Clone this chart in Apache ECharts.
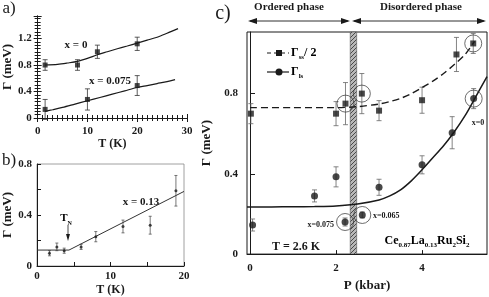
<!DOCTYPE html>
<html>
<head>
<meta charset="utf-8">
<script src="https://cdn.jsdelivr.net/npm/echarts@6/dist/echarts.min.js"></script>
<style>
html, body { margin: 0; padding: 0; background: #fff; }
#chart { width: 489px; height: 297px; }
</style>
</head>
<body>
<div id="chart"></div>
<script>
// ---- panel a : Gamma vs T, x = 0 and x = 0.075
const aT0 = [1.5, 8, 12, 20];
const aG0 = [0.8, 0.8, 1.0, 1.12];
const aE0 = [0.08, 0.08, 0.1, 0.1];
const aT1 = [1.5, 10, 20];
const aG1 = [0.13, 0.28, 0.49];
const aE1 = [0.15, 0.16, 0.15];
const aFit0T = [1.5, 4, 6, 8, 10, 12, 14, 16, 18, 20, 22, 24, 26, 28.2];
const aFit0 = [0.8, 0.81, 0.83, 0.855, 0.9, 0.955, 1.0, 1.045, 1.087, 1.13, 1.175, 1.22, 1.28, 1.35];
const aFit1T = [1.5, 3, 5, 7.5, 10, 12.5, 15, 17.5, 20, 22, 24, 26, 27.6];
const aFit1 = [0.1, 0.125, 0.16, 0.21, 0.26, 0.31, 0.36, 0.41, 0.46, 0.49, 0.52, 0.55, 0.58];

// ---- panel b : Gamma vs T, x = 0.13
const bT = [1.7, 2.7, 3.7, 6.0, 8.0, 11.7, 15.4, 18.9];
const bG = [0.10, 0.15, 0.12, 0.15, 0.23, 0.31, 0.32, 0.59];
const bE = [0.02, 0.03, 0.02, 0.02, 0.04, 0.05, 0.07, 0.12];
const bFitT = [0, 4.35, 20];
const bFit = [0.125, 0.125, 0.585];

// ---- panel c : Gamma vs P
const cPss = [0.02, 2.0, 3.0, 4.0, 4.8];
const cGss = [0.70, 0.70, 0.715, 0.767, 0.995];
const cEss = [0.05, 0.06, 0.05, 0.065, 0.085];
const cPssC = [2.22, 2.6, 5.19];
const cGssC = [0.75, 0.80, 1.05];
const cEssC = [0.105, 0.1, 0.05];
const cPls = [0.06, 1.5, 2.0, 3.0, 4.0, 4.7];
const cGls = [0.145, 0.29, 0.385, 0.333, 0.445, 0.605];
const cEls = [0.03, 0.03, 0.05, 0.04, 0.045, 0.08];
const cPlsC = [2.21, 2.61, 5.2];
const cGlsC = [0.16, 0.195, 0.775];
const cElsC = [0.02, 0.015, 0.05];
const cFitSsP = [0, 1, 2, 2.5, 3, 3.25, 3.5, 3.75, 4, 4.25, 4.5, 4.75, 5, 5.22];
const cFitSs = [0.73, 0.73, 0.73, 0.735, 0.748, 0.76, 0.776, 0.8, 0.83, 0.862, 0.9, 0.945, 0.995, 1.06];
const cFitLsP = [-0.07, 0.5, 1, 1.5, 2, 2.5, 3, 3.25, 3.5, 3.75, 4, 4.25, 4.5, 4.75, 5, 5.25, 5.51];
const cFitLs = [0.235, 0.235, 0.236, 0.237, 0.24, 0.25, 0.27, 0.29, 0.32, 0.365, 0.42, 0.48, 0.54, 0.61, 0.69, 0.785, 0.885];
const cBand = [2.33, 2.48];

const SERIF = '"Liberation Serif", "DejaVu Serif", serif';
const INK = '#1a1a1a';

const zip = (xs, ys) => xs.map((x, i) => [x, ys[i]]);

// error bars drawn through the axes
function errBars(xi, yi, xs, ys, es, cap, color) {
  return {
    type: 'custom',
    xAxisIndex: xi,
    yAxisIndex: yi,
    silent: true,
    z: 1,
    encode: { x: 0, y: [1, 2] },
    data: xs.map((x, i) => [x, ys[i] - es[i], ys[i] + es[i]]),
    renderItem: (params, api) => {
      const lo = api.coord([api.value(0), api.value(1)]);
      const hi = api.coord([api.value(0), api.value(2)]);
      const st = { stroke: color, lineWidth: 0.8 };
      return {
        type: 'group',
        children: [
          { type: 'line', shape: { x1: lo[0], y1: lo[1], x2: hi[0], y2: hi[1] }, style: st },
          { type: 'line', shape: { x1: lo[0] - cap, y1: lo[1], x2: lo[0] + cap, y2: lo[1] }, style: st },
          { type: 'line', shape: { x1: hi[0] - cap, y1: hi[1], x2: hi[0] + cap, y2: hi[1] }, style: st },
        ],
      };
    },
  };
}

function pts(xi, yi, data, symbol, size) {
  return {
    type: 'scatter', xAxisIndex: xi, yAxisIndex: yi, data: data,
    symbol: symbol, symbolSize: size, z: 3, silent: true,
    itemStyle: { color: INK },
  };
}

function fit(xi, yi, data, smooth, width, dash, color) {
  return {
    type: 'line', xAxisIndex: xi, yAxisIndex: yi, data: data,
    smooth: smooth, showSymbol: false, silent: true, z: 2,
    lineStyle: { color: color || INK, width: width, type: dash || 'solid' },
  };
}

// hatch pattern for the phase boundary
const pc = document.createElement('canvas');
pc.width = 4; pc.height = 4;
const pctx = pc.getContext('2d');
pctx.fillStyle = '#b8b8b8';
pctx.fillRect(0, 0, 4, 4);
pctx.strokeStyle = '#4a4a4a';
pctx.lineWidth = 1;
pctx.beginPath();
pctx.moveTo(0, 4); pctx.lineTo(4, 0);
pctx.moveTo(-1, 1); pctx.lineTo(1, -1);
pctx.moveTo(3, 5); pctx.lineTo(5, 3);
pctx.stroke();

const tickLbl = { fontFamily: SERIF, fontWeight: 'bold', fontSize: 11, color: INK };
const axisNm = { fontFamily: SERIF, fontWeight: 'bold', fontSize: 13, color: INK };
const lineBlk = { lineStyle: { color: INK, width: 1 } };
const dec1 = (v) => (v === 0 ? '0' : v.toFixed(1));

const sub = (t) => ({
  fontFamily: SERIF, fontWeight: 'bold', fontSize: t, color: INK,
  lineHeight: t + 1, verticalAlign: 'bottom',
});
const base = (t) => ({
  fontFamily: SERIF, fontWeight: 'bold', fontSize: t, color: INK, lineHeight: 16,
});

function txt(x, y, text, size, weight, align) {
  return {
    type: 'text', x: x, y: y, silent: true, z: 20,
    style: {
      text: text, fill: INK, align: align || 'center', verticalAlign: 'middle',
      font: (weight || 'bold') + ' ' + size + 'px ' + SERIF,
    },
  };
}

function richTxt(x, y, text, rich, align) {
  return {
    type: 'text', x: x, y: y, silent: true, z: 20,
    style: { text: text, rich: rich, align: align || 'left', verticalAlign: 'middle' },
  };
}

function head(x, y, dir) {
  const l = 9, h = 3;
  return {
    type: 'polygon', silent: true, z: 20,
    shape: { points: [[x, y], [x - dir * l, y - h], [x - dir * l, y + h]] },
    style: { fill: INK },
  };
}

const chart = echarts.init(document.getElementById('chart'), null, { renderer: 'canvas' });

const option = {
  animation: false,
  backgroundColor: '#fff',
  grid: [
    { left: 37, top: 16, width: 150, height: 102, show: false },
    { left: 37, top: 164, width: 147, height: 102, show: true, borderColor: '#888', borderWidth: 0.8 },
    { left: 247, top: 32, width: 240, height: 227, show: true, borderColor: INK, borderWidth: 1 },
  ],
  xAxis: [
    {
      gridIndex: 0, type: 'value', min: 0, max: 30, interval: 10,
      axisLine: lineBlk, splitLine: { show: false },
      axisTick: { inside: true, length: 4, lineStyle: { color: INK } },
      minorTick: { show: true, splitNumber: 10, length: 3, lineStyle: { color: INK } },
      axisLabel: Object.assign({ margin: 8 }, tickLbl),
      name: 'T (K)', nameLocation: 'middle', nameGap: 19,
      nameTextStyle: Object.assign({}, axisNm, { fontSize: 12 }),
    },
    {
      gridIndex: 0, type: 'value', position: 'top', min: 0, max: 30, interval: 10,
      axisLine: lineBlk, splitLine: { show: false },
      axisTick: { inside: true, length: 4, lineStyle: { color: INK } },
      minorTick: { show: true, splitNumber: 10, length: 3, lineStyle: { color: INK } },
      axisLabel: { show: false },
    },
    {
      gridIndex: 1, type: 'value', min: 0, max: 20, interval: 5,
      axisLine: lineBlk, splitLine: { show: false },
      axisTick: { inside: true, length: 4, lineStyle: { color: INK } },
      axisLabel: Object.assign({ margin: 5, formatter: (v) => (v % 10 === 0 ? String(v) : '') }, tickLbl),
      name: 'T (K)', nameLocation: 'middle', nameGap: 18,
      nameTextStyle: Object.assign({}, axisNm, { fontSize: 12 }),
    },
    {
      gridIndex: 2, type: 'value', min: -0.07, max: 5.51,
      axisLine: lineBlk, splitLine: { show: false },
      axisTick: { inside: true, length: 4, customValues: [0, 2, 4], lineStyle: { color: INK } },
      axisLabel: Object.assign({ margin: 9, customValues: [0, 2, 4] }, tickLbl),
      name: 'P (kbar)', nameLocation: 'middle', nameGap: 21,
      nameTextStyle: axisNm,
    },
  ],
  yAxis: [
    {
      gridIndex: 0, type: 'value', min: 0, max: 1.54, interval: 0.4,
      axisLine: lineBlk, splitLine: { show: false },
      axisTick: { inside: true, length: 4, lineStyle: { color: INK } },
      minorTick: { show: true, splitNumber: 8, length: 3, lineStyle: { color: INK } },
      axisLabel: Object.assign({ margin: 6, formatter: dec1, showMaxLabel: false }, tickLbl),
      name: 'Γ (meV)', nameLocation: 'middle', nameGap: 21, nameTextStyle: axisNm,
    },
    {
      gridIndex: 0, type: 'value', position: 'right', min: 0, max: 1.54, interval: 0.4,
      axisLine: lineBlk, splitLine: { show: false },
      axisTick: { inside: true, length: 4, lineStyle: { color: INK } },
      minorTick: { show: true, splitNumber: 8, length: 3, lineStyle: { color: INK } },
      axisLabel: { show: false },
    },
    {
      gridIndex: 1, type: 'value', min: 0, max: 0.8, interval: 0.2,
      axisLine: lineBlk, splitLine: { show: false },
      axisTick: { inside: true, length: 4, lineStyle: { color: INK } },
      axisLabel: Object.assign({
        margin: 5,
        formatter: (v) => (Math.abs(v * 10 % 4) < 1e-6 ? dec1(v) : ''),
      }, tickLbl),
      name: 'Γ (meV)', nameLocation: 'middle', nameGap: 22, nameTextStyle: axisNm,
    },
    {
      gridIndex: 2, type: 'value', min: 0, max: 1.107,
      axisLine: lineBlk, splitLine: { show: false },
      axisTick: { inside: true, length: 5, customValues: [0, 0.4, 0.8], lineStyle: { color: INK } },
      axisLabel: Object.assign({ margin: 9, customValues: [0, 0.4, 0.8], formatter: dec1 }, tickLbl),
      name: 'Γ (meV)', nameLocation: 'middle', nameGap: 34, nameTextStyle: axisNm,
    },
  ],
  series: [
    // panel a
    fit(0, 0, zip(aFit0T, aFit0), 0.3, 1.2),
    fit(0, 0, zip(aFit1T, aFit1), 0.3, 1.2),
    errBars(0, 0, aT0, aG0, aE0, 2.5, '#333'),
    errBars(0, 0, aT1, aG1, aE1, 2.5, '#333'),
    pts(0, 0, zip(aT0, aG0), 'rect', 5),
    pts(0, 0, zip(aT1, aG1), 'rect', 5),
    // panel b
    fit(2, 2, zip(bFitT, bFit), false, 1, null, '#333'),
    errBars(2, 2, bT, bG, bE, 1.5, '#555'),
    pts(2, 2, zip(bT, bG), 'circle', 3),
    // panel c : hatched phase boundary
    {
      type: 'custom', xAxisIndex: 3, yAxisIndex: 3, silent: true, z: 0,
      encode: { x: [0, 1] },
      data: [[cBand[0], cBand[1]]],
      renderItem: (params, api) => {
        const a = api.coord([api.value(0), 0]);
        const b = api.coord([api.value(1), 0]);
        const cs = params.coordSys;
        return {
          type: 'rect',
          shape: { x: a[0], y: cs.y, width: b[0] - a[0], height: cs.height },
          style: { fill: { image: pc, repeat: 'repeat' }, stroke: '#555', lineWidth: 0.6 },
        };
      },
    },
    fit(3, 3, zip(cFitSsP, cFitSs), 0.3, 1.4, [7, 4]),
    fit(3, 3, zip(cFitLsP, cFitLs), 0.3, 1.5),
    errBars(3, 3, cPss, cGss, cEss, 2.5, '#666'),
    errBars(3, 3, cPssC, cGssC, cEssC, 2.5, '#666'),
    errBars(3, 3, cPls, cGls, cEls, 2.5, '#666'),
    errBars(3, 3, cPlsC, cGlsC, cElsC, 2.5, '#666'),
    pts(3, 3, zip(cPss, cGss), 'rect', 6),
    pts(3, 3, zip(cPssC, cGssC), 'rect', 6),
    pts(3, 3, zip(cPls, cGls), 'circle', 7),
    pts(3, 3, zip(cPlsC, cGlsC), 'circle', 7),
    {
      type: 'scatter', xAxisIndex: 3, yAxisIndex: 3, silent: true, z: 4,
      data: zip(cPssC.concat(cPlsC), cGssC.concat(cGlsC)),
      symbol: 'circle', symbolSize: 17,
      itemStyle: { color: 'rgba(0,0,0,0)', borderColor: '#333', borderWidth: 0.9 },
    },
  ],
  graphic: [
    txt(9, 9, 'a)', 17, 'normal'),
    txt(9, 161, 'b)', 17, 'normal'),
    txt(223, 14, 'c)', 20, 'normal'),
    // panel a notes
    txt(76, 45, 'x = 0', 11),
    txt(110, 81, 'x = 0.075', 11),
    // panel b notes
    txt(141, 202, 'x = 0.13', 11),
    richTxt(66, 218, '{b|T}{s|N}', { b: base(11), s: sub(6) }, 'center'),
    { type: 'line', silent: true, z: 20, shape: { x1: 68, y1: 225, x2: 68, y2: 236 }, style: { stroke: INK, lineWidth: 0.8 } },
    { type: 'polygon', silent: true, z: 20, shape: { points: [[68, 241], [66, 234], [70, 234]] }, style: { fill: INK } },
    // panel c headers and arrows
    txt(289, 7, 'Ordered phase', 11),
    txt(421, 7, 'Disordered phase', 11),
    { type: 'line', silent: true, z: 20, shape: { x1: 250, y1: 21, x2: 348, y2: 21 }, style: { stroke: INK, lineWidth: 0.9 } },
    { type: 'line', silent: true, z: 20, shape: { x1: 354, y1: 21, x2: 484, y2: 21 }, style: { stroke: INK, lineWidth: 0.9 } },
    head(248, 21, -1), head(350, 21, 1), head(352, 21, -1), head(486, 21, 1),
    // panel c legend
    { type: 'line', silent: true, z: 20, shape: { x1: 267, y1: 53, x2: 289, y2: 53 }, style: { stroke: INK, lineWidth: 1.2, lineDash: [4, 3] } },
    { type: 'rect', silent: true, z: 21, shape: { x: 276, y: 50, width: 6, height: 6 }, style: { fill: INK } },
    richTxt(291, 53, '{b|Γ}{s|ss}{b|/ 2}', { b: base(12), s: sub(7) }),
    { type: 'line', silent: true, z: 20, shape: { x1: 267, y1: 72, x2: 289, y2: 72 }, style: { stroke: INK, lineWidth: 1.2 } },
    { type: 'circle', silent: true, z: 21, shape: { cx: 279, cy: 72, r: 3.5 }, style: { fill: INK } },
    richTxt(291, 72, '{b|Γ}{s|ls}', { b: base(12), s: sub(7) }),
    // panel c notes
    txt(478, 123, 'x=0', 8),
    txt(334, 225, 'x=0.075', 8, 'bold', 'right'),
    txt(373, 216, 'x=0.065', 8, 'bold', 'left'),
    txt(296, 247, 'T = 2.6 K', 12),
    richTxt(427, 241,
      '{b|Ce}{s|0.87}{b|La}{s|0.13}{b|Ru}{s|2}{b|Si}{s|2}',
      { b: base(12), s: sub(7) }, 'center'),
  ],
};

chart.setOption(option);
</script>
</body>
</html>
